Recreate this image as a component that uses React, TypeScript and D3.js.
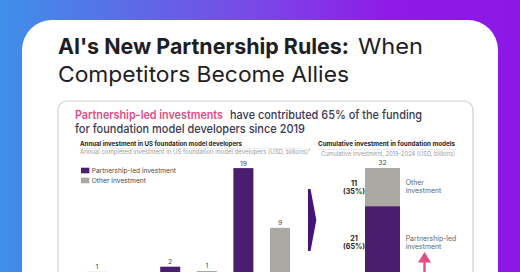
import React from "react";
import * as d3 from "d3";

// ---- Data ----
const slotKeys = ["g1-p", "g1-o", "g2-p", "g2-o", "g3-p", "g3-o"];
const slotSeries = ["partnership", "other", "partnership", "other", "partnership", "other"];
const slotValues = [1.1, 0.2, 2.0, 1.26, 19.0, 8.7];

const cumulativeSeries = ["Partnership-led investment", "Other investment"];
const cumulativeValues = [21, 11];
const cumulativeShares = ["65%", "35%"];
const cumulativeTotal = 32;

const legendLabels = ["Partnership-led investment", "Other investment"];

const W = 520;
const H = 272;
const PURPLE = "#4a1d6e";
const GRAY = "#aaa9a3";
const PINK = "#e24d86";
const FONT = "Inter, 'Noto Sans', sans-serif";

export default function App() {
  const xLeft = d3.scalePoint<string>().domain(slotKeys).range([97, 280]);
  const yLeft = d3.scaleLinear().domain([0, 19]).range([278.3, 278.3 - 19 * 5.8]);
  const barW = 20;

  const yRight = d3.scaleLinear().domain([0, cumulativeTotal]).range([279, 168]);
  const stack = [
    { key: "partnership", v0: 0, v1: cumulativeValues[0], color: PURPLE, share: cumulativeShares[0] },
    { key: "other", v0: cumulativeValues[0], v1: cumulativeValues[0] + cumulativeValues[1], color: GRAY, share: cumulativeShares[1] },
  ];
  const rx0 = 365, rw = 35;

  return (
    <svg width={W} height={H} style={{ position: "absolute", left: 0, top: 0 }} fontFamily={FONT}>
      <defs>
        <linearGradient id="bg" x1="0" x2="1" y1="0" y2="0">
          <stop offset="0" stopColor="#3f8fe9" />
          <stop offset="0.5" stopColor="#7a47e6" />
          <stop offset="0.75" stopColor="#8f1ae8" />
          <stop offset="1" stopColor="#8d18e6" />
        </linearGradient>
      </defs>
      <rect x={0} y={0} width={W} height={H} fill="url(#bg)" />
      <rect x={22} y={20} width={476} height={300} rx={30} fill="#ffffff" />

      {/* Title */}
      <text x={58} y={54.3} fontSize={22} fontWeight={700} fill="#1e1e24" textLength={291} lengthAdjust="spacingAndGlyphs">AI's New Partnership Rules:</text>
      <text x={358} y={54.3} fontSize={22} fontWeight={400} fill="#1e1e24" textLength={65} lengthAdjust="spacingAndGlyphs">When</text>
      <text x={58} y={81.7} fontSize={22} fontWeight={400} fill="#1e1e24" textLength={291} lengthAdjust="spacingAndGlyphs">Competitors Become Allies</text>

      {/* Inner panel */}
      <rect x={58} y={101} width={415} height={220} rx={9} fill="#ffffff" stroke="#cfcfcf" strokeWidth={1.2} />

      <text x={75} y={119} fontSize={12.2} fontWeight={600} fill={PINK} textLength={148} lengthAdjust="spacingAndGlyphs">Partnership-led investments</text>
      <text x={230} y={119} fontSize={12.2} fontWeight={500} fill="#3b3954" textLength={192} lengthAdjust="spacingAndGlyphs">have contributed 65% of the funding</text>
      <text x={75} y={132.5} fontSize={12.2} fontWeight={500} fill="#3b3954" textLength={230} lengthAdjust="spacingAndGlyphs">for foundation model developers since 2019</text>

      {/* Left chart header */}
      <text x={80} y={145.5} fontSize={6.8} fontWeight={700} fill="#1e1e24" textLength={162} lengthAdjust="spacingAndGlyphs">Annual investment in US foundation model developers</text>
      <line x1={80} x2={302} y1={148.3} y2={148.3} stroke="#d6d6d6" strokeWidth={0.6} />
      <text x={80} y={153.8} fontSize={6.3} fill="#9c9c9c" textLength={230} lengthAdjust="spacingAndGlyphs">Annual completed investment in US foundation model developers (USD, billions)¹</text>

      {/* Legend */}
      {legendLabels.map((l, i) => (
        <g key={l}>
          <rect x={81} y={167.7 + i * 10} width={8.3} height={5.6} fill={i === 0 ? PURPLE : GRAY} />
          <text x={91.7} y={173.2 + i * 10} fontSize={6.8} fill="#4a4a4a" textLength={i === 0 ? 84.3 : 54.3} lengthAdjust="spacingAndGlyphs">{l}</text>
        </g>
      ))}

      {/* Left bars */}
      {slotKeys.map((k, i) => {
        const cx = xLeft(k)!;
        const top = yLeft(slotValues[i]);
        const lbl = Math.round(slotValues[i]);
        return (
          <g key={k}>
            <rect x={cx - barW / 2} y={top} width={barW} height={Math.max(0, yLeft(0) - top) + 20}
              fill={slotSeries[i] === "partnership" ? PURPLE : GRAY} />
            {lbl > 0 && (
              <text x={cx} y={top - 2.5} fontSize={6.8} textAnchor="middle" fill="#4a4a4a">{lbl}</text>
            )}
          </g>
        );
      })}

      {/* Chevron */}
      <polygon points="308,189 310.5,189 316.3,220 310.5,251 308,251" fill="#441479" />

      {/* Right chart header */}
      <text x={318} y={146} fontSize={6.8} fontWeight={700} fill="#1e1e24" textLength={137} lengthAdjust="spacingAndGlyphs">Cumulative investment in foundation models</text>
      <line x1={318} x2={456} y1={149.3} y2={149.3} stroke="#d6d6d6" strokeWidth={0.6} />
      <text x={321} y={156} fontSize={6.3} fill="#9c9c9c" textLength={134} lengthAdjust="spacingAndGlyphs">Cumulative investment, 2019-2024 (USD, billions)</text>

      {/* Stacked bar */}
      {stack.map((s) => (
        <rect key={s.key} x={rx0} y={yRight(s.v1)} width={rw} height={yRight(s.v0) - yRight(s.v1) + (s.v0 === 0 ? 20 : 0)} fill={s.color} />
      ))}
      <text x={rx0 + rw / 2} y={yRight(cumulativeTotal) - 2.8} fontSize={6.8} textAnchor="middle" fill="#4a4a4a">{cumulativeTotal}</text>
      {stack.map((s, i) => {
        const mid = (yRight(s.v0) + yRight(s.v1)) / 2;
        const label = cumulativeSeries[i];
        const lines = label === "Other investment" ? ["Other", "investment"] : ["Partnership-led", "investment"];
        return (
          <g key={s.key + "l"}>
            <text x={354} y={mid - 1.5} fontSize={7.2} fontWeight={700} textAnchor="middle" fill="#1e1e24">{cumulativeValues[i]}</text>
            <text x={354} y={mid + 6.5} fontSize={7.2} fontWeight={700} textAnchor="middle" fill="#1e1e24">({s.share})</text>
            <text x={405.7} y={mid - 2} fontSize={6.9} fill="#666666">{lines[0]}</text>
            <text x={405.7} y={mid + 6} fontSize={6.9} fill="#666666">{lines[1]}</text>
          </g>
        );
      })}

      {/* Pink arrow */}
      <polygon points="424.5,252 431,262.5 418,262.5" fill={PINK} />
      <rect x={423.3} y={262} width={2.4} height={20} fill={PINK} />
    </svg>
  );
}
